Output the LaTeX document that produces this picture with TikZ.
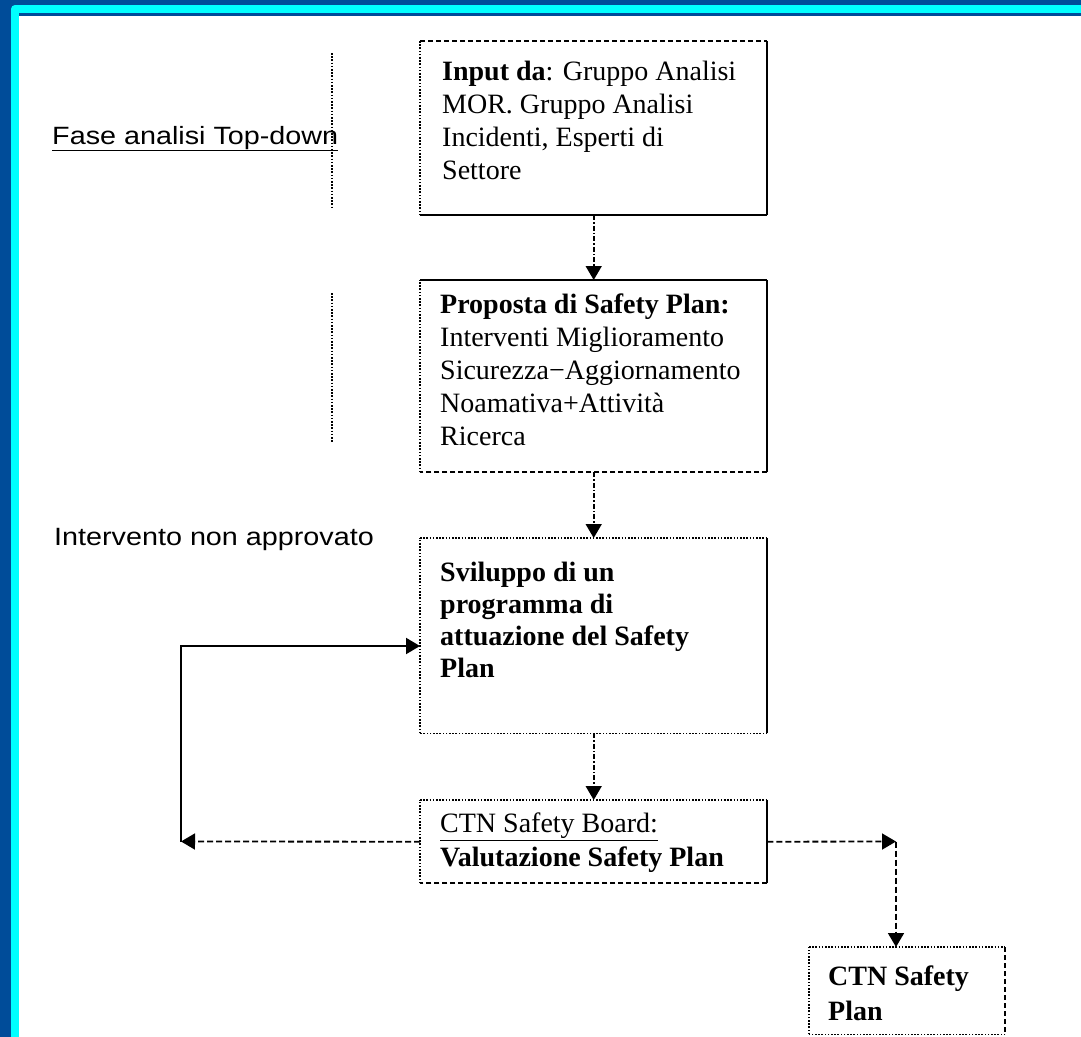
\documentclass[tikz,border=0pt]{standalone}
\usepackage{fontspec}
\setmainfont{Liberation Serif}
\newfontfamily\labelsans[FakeStretch=1.15]{Liberation Sans}
\usetikzlibrary{arrows.meta}
\definecolor{frameblue}{RGB}{0,76,153}
\definecolor{framecyan}{RGB}{0,255,255}

\tikzset{
  boxshape/.style={draw=none, inner sep=0pt, anchor=north west},
  boxtext/.style={inner sep=0pt, anchor=north west, align=left,
    font=\fontsize{28}{33}\selectfont},
  sidesolid/.style={line width=2pt},
  sidedash/.style={line width=2pt, dash pattern=on 5pt off 3pt},
  sidedot/.style={line width=1.8pt, dash pattern=on 1.6pt off 1.6pt},
  flowtip/.style={-{Triangle[width=16pt,length=14pt]}},
  vflow/.style={flowtip, line width=1.6pt,
    dash pattern=on 5pt off 2pt on 1.5pt off 2pt},
  dflow/.style={flowtip, line width=1.8pt, dash pattern=on 6pt off 3pt},
  sflow/.style={flowtip, line width=2pt},
  sidelabel/.style={inner sep=0pt, anchor=base west,
    font=\labelsans\fontsize{25}{30}\selectfont},
  guide/.style={line width=1.8pt, dash pattern=on 1.6pt off 1.6pt},
}

% top, right, bottom, left side styles of a box node
\newcommand{\drawsides}[5]{%
  \draw[#2] (#1.north west) -- (#1.north east);
  \draw[#3] (#1.north east) -- (#1.south east);
  \draw[#4] (#1.south east) -- (#1.south west);
  \draw[#5] (#1.south west) -- (#1.north west);}

\begin{document}
\begin{tikzpicture}[x=1pt, y=-1pt]
  \useasboundingbox (0,0) rectangle (1081,1036);

  % slide frame
  \fill[frameblue] (-10,-10) rectangle (1100,1050);
  \fill[framecyan, rounded corners=4pt] (11,5) rectangle (1100,1050);
  \fill[frameblue] (19,13) rectangle (1100,15.5);
  \fill[white] (19,15.5) rectangle (1100,1050);

  % boxes
  \node[boxshape, minimum width=347pt, minimum height=174pt] (b1) at (420,41) {};
  \node[boxshape, minimum width=347pt, minimum height=192pt] (b2) at (420,280) {};
  \node[boxshape, minimum width=347pt, minimum height=195pt] (b3) at (420,538) {};
  \node[boxshape, minimum width=347pt, minimum height=83pt]  (b4) at (420,800) {};
  \node[boxshape, minimum width=196pt, minimum height=87pt]  (b5) at (809,947) {};

  \drawsides{b1}{sidedash}{sidesolid}{sidesolid}{sidedot}
  \drawsides{b2}{sidesolid}{sidesolid}{sidedash}{sidedot}
  \drawsides{b3}{sidedot}{sidesolid}{sidedot}{sidedot}
  \drawsides{b4}{sidedot}{sidesolid}{sidedash}{sidedot}
  \drawsides{b5}{sidedot}{sidedash}{sidedot}{sidedot}

  % box texts
  \node[boxtext] (t1) at (442,61)
    {\textbf{Input da}: Gruppo Analisi\\MOR. Gruppo Analisi\\Incidenti, Esperti di\\Settore};
  \node[boxtext] (t2) at (440,294)
    {\textbf{Proposta di Safety Plan:}\\Interventi Miglioramento\\Sicurezza−Aggiornamento\\Noamativa+Attività\\Ricerca};
  \node[boxtext, font=\bfseries\fontsize{28}{32}\selectfont] (t3) at (440,562)
    {Sviluppo di un\\programma di\\attuazione del Safety\\Plan};
  \node[boxtext, font=\fontsize{28}{34}\selectfont] (t4) at (440,813)
    {\underline{CTN Safety Board:}\\\textbf{Valutazione Safety Plan}};
  \node[boxtext, font=\bfseries\fontsize{28}{35}\selectfont] (t5) at (828,966)
    {CTN Safety\\Plan};

  % side labels and guides
  \node[sidelabel] (fase) at (52,144) {\underline{Fase analisi Top-down}};
  \node[sidelabel] (nonapp) at (54,545) {Intervento non approvato};
  \draw[guide] (332,53) -- (332,208);
  \draw[guide] (332,293) -- (332,443);

  % main flow
  \draw[vflow] (b1.south) -- (b2.north);
  \draw[vflow] (b2.south) -- (b3.north);
  \draw[vflow] (b3.south) -- (b4.north);

  % rejection loop
  \coordinate (lc) at (181,841.5);
  \coordinate (lt) at (181,646);
  \draw[dflow] (b4.west) -- (lc);
  \draw[sflow] (lc) -- (lt) -- (lt -| b3.west);

  % approval path
  \coordinate (rc) at (896,841.5);
  \draw[dflow] (b4.east) -- (rc);
  \draw[dflow] (rc) -- (rc |- b5.north);
\end{tikzpicture}
\end{document}
